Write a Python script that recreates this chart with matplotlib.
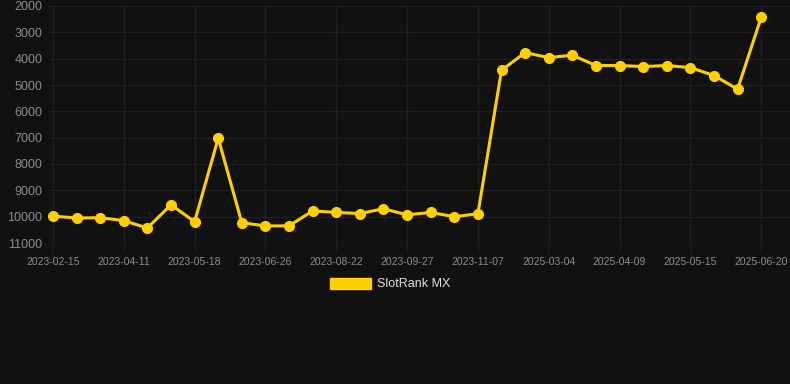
import matplotlib.pyplot as plt
from matplotlib.patches import Patch

# Data
dates = ["2023-02-15", "2023-03-05", "2023-03-23", "2023-04-11", "2023-04-23",
         "2023-05-05", "2023-05-18", "2023-05-30", "2023-06-10", "2023-06-26",
         "2023-07-10", "2023-07-25", "2023-08-22", "2023-09-02", "2023-09-15",
         "2023-09-27", "2023-10-10", "2023-10-24", "2023-11-07", "2025-02-10",
         "2025-02-20", "2025-03-04", "2025-03-16", "2025-03-28", "2025-04-09",
         "2025-04-21", "2025-05-03", "2025-05-15", "2025-05-27", "2025-06-08",
         "2025-06-20"]
ranks = [9980, 10050, 10040, 10150, 10430, 9550, 10190, 7020, 10230, 10350,
         10350, 9780, 9840, 9880, 9700, 9930, 9840, 10000, 9890, 4440,
         3770, 3960, 3870, 4260, 4260, 4300, 4260, 4340, 4640, 5160,
         2430]
series_name = "SlotRank MX"

bg = "#111111"
grid_col = "#1f1f1f"
gold = "#FFD000"

plt.rcParams['font.family'] = ['Liberation Sans', 'DejaVu Sans']

fig = plt.figure(figsize=(7.9, 3.84), dpi=100, facecolor=bg)
ax = fig.add_axes([48 / 790, 1 - 243 / 384, 742 / 790, 237 / 384])
ax.set_facecolor(bg)

x = list(range(len(dates)))
ax.plot(x, ranks, color=gold, lw=2.2, marker="o", ms=7, zorder=3, clip_on=False)

ax.set_ylim(11000, 2000)
ax.set_yticks(range(2000, 11001, 1000))
ax.set_xlim(-0.21, len(dates) - 1 + 1.22)
ax.set_xticks(x[::3])
ax.set_xticklabels(dates[::3])

ax.grid(True, color=grid_col, lw=1)
ax.set_axisbelow(True)
for s in ax.spines.values():
    s.set_visible(False)
ax.tick_params(axis="y", colors="#8c8c8c", labelsize=9, length=0, pad=4)
ax.tick_params(axis="x", colors=grid_col, labelcolor="#8c8c8c", labelsize=7.5,
               length=7, width=1, pad=3)

leg = fig.legend(handles=[Patch(facecolor=gold, edgecolor=gold)], labels=[series_name],
                 loc="center", bbox_to_anchor=(390 / 790, 1 - 284 / 384),
                 frameon=False, fontsize=9, handlelength=3.3, handleheight=1.0,
                 handletextpad=0.5)
for t in leg.get_texts():
    t.set_color("#e0e0e0")

fig.savefig("out.png", dpi=100, facecolor=bg)
